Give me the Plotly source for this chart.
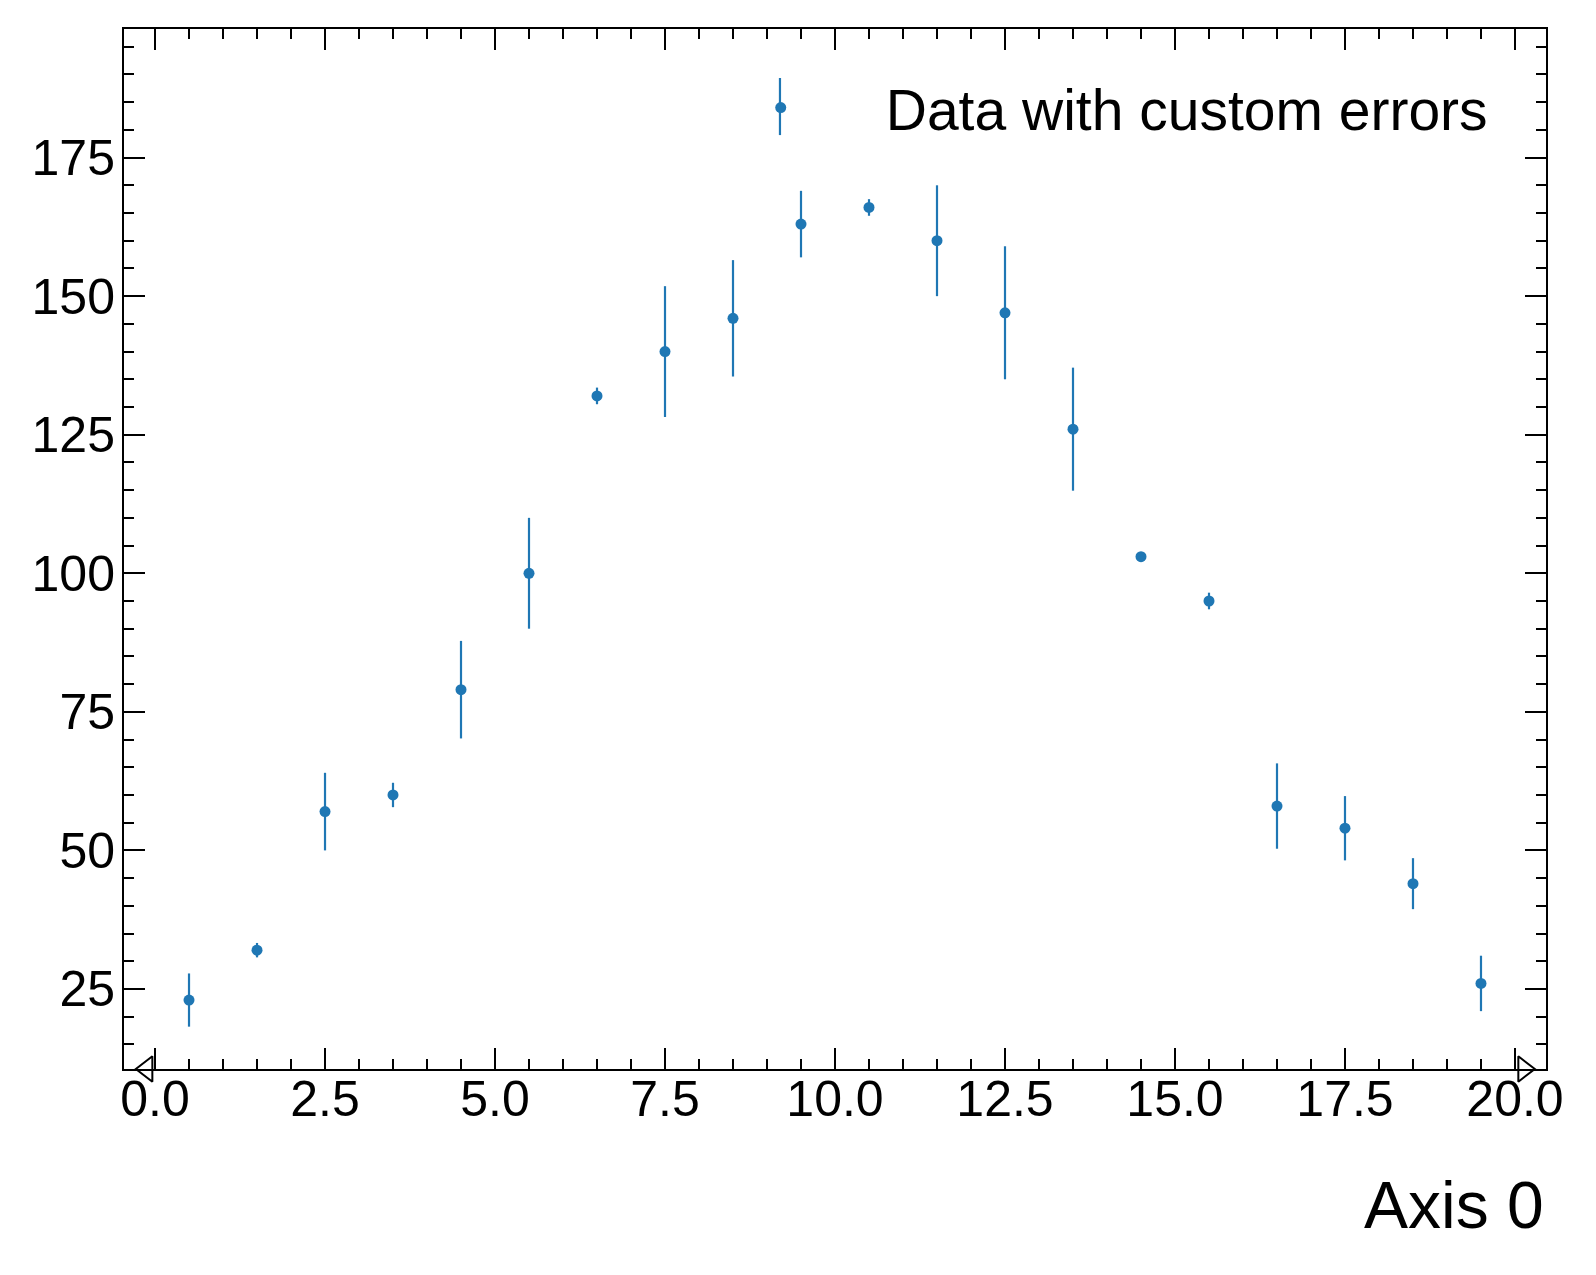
import plotly.graph_objects as go

# histogram bin centres (20 bins from 0 to 20) with counts and custom errors
bin_centers = [0.5, 1.5, 2.5, 3.5, 4.5, 5.5, 6.5, 7.5, 8.5, 9.5,
               10.5, 11.5, 12.5, 13.5, 14.5, 15.5, 16.5, 17.5, 18.5, 19.5]
counts = [23, 32, 57, 60, 79, 100, 132, 140, 146, 163,
          166, 160, 147, 126, 103, 95, 58, 54, 44, 26]
errors = [4.8, 1.3, 7.0, 2.2, 8.8, 10.0, 1.5, 11.8, 10.5, 6.0,
          1.5, 10.0, 12.0, 11.1, 0.5, 1.5, 7.7, 5.8, 4.6, 5.0]

# flow hint markers at the ends of the x axis
flow_x = [-0.12, 20.13]
flow_symbols = ["triangle-left-open", "triangle-right-open"]

x_range = [-0.456, 20.456]
y_range = [10.56, 198.2]
x_ticks = [0, 2.5, 5, 7.5, 10, 12.5, 15, 17.5, 20]
y_ticks = [25, 50, 75, 100, 125, 150, 175]

blue = "#1f77b4"
font_family = "Liberation Sans, Arial, sans-serif"

fig = go.Figure()

fig.add_trace(go.Scatter(
    x=bin_centers, y=counts, mode="markers",
    name="Data with custom errors",
    marker=dict(color=blue, size=11),
    error_y=dict(type="data", array=errors, visible=True,
                 color=blue, thickness=2.2, width=0),
))

fig.add_trace(go.Scatter(
    x=flow_x, y=[y_range[0]] * 2, mode="markers",
    marker=dict(symbol=flow_symbols, size=22, color="black",
                line=dict(color="black", width=2)),
    showlegend=False, cliponaxis=False, hoverinfo="skip",
))

axis_common = dict(
    showline=True, linecolor="black", linewidth=2, mirror="allticks",
    ticks="inside", ticklen=21, tickwidth=2.2, tickcolor="black",
    showgrid=False, zeroline=False,
    tickfont=dict(family=font_family, size=50, color="black"),
)

fig.update_xaxes(
    range=x_range, tickvals=x_ticks, tickformat=".1f",
    ticklabelstandoff=-15,
    minor=dict(ticks="inside", ticklen=10, tickwidth=1.8,
               tickcolor="black", dtick=0.5, tick0=0),
    **axis_common,
)
fig.update_yaxes(
    range=y_range, tickvals=y_ticks,
    ticklabelstandoff=-3,
    minor=dict(ticks="inside", ticklen=10, tickwidth=1.8,
               tickcolor="black", dtick=5, tick0=0),
    **axis_common,
)

fig.add_annotation(
    text="Axis 0", xref="paper", yref="paper", x=1.0, y=-0.1308,
    xanchor="right", yanchor="middle", showarrow=False,
    font=dict(family=font_family, size=66, color="black"),
)

# error bar stroke on the legend symbol
fig.add_shape(
    type="line", xref="paper", yref="paper",
    x0=0.4613, x1=0.4613, y0=0.898, y1=0.9529,
    line=dict(color=blue, width=2.2),
)

fig.update_layout(
    width=1596, height=1275,
    margin=dict(l=116, r=58, t=21, b=214),
    plot_bgcolor="white", paper_bgcolor="white",
    legend=dict(
        x=0.388, y=0.9663, xanchor="left", yanchor="top",
        bgcolor="rgba(0,0,0,0)", itemwidth=200,
        font=dict(family=font_family, size=57, color="black"),
    ),
)

fig.write_html("out.html")
